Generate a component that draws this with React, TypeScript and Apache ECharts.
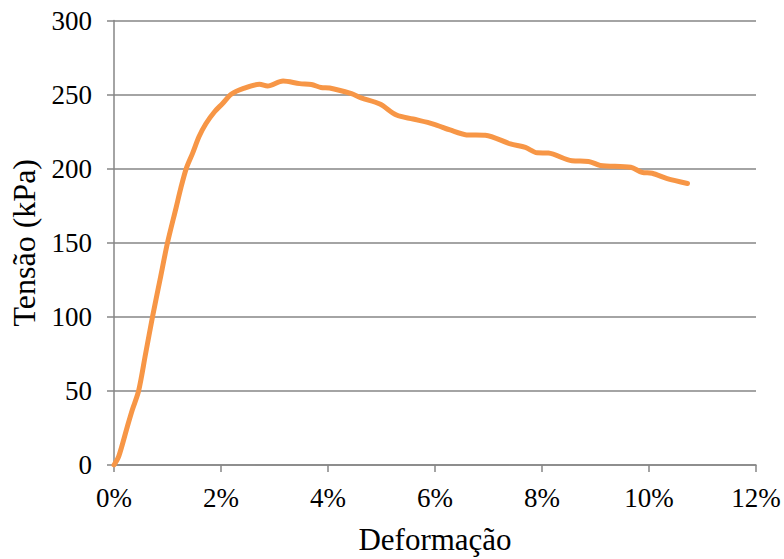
import React, { useEffect, useRef } from "react";
import * as echarts from "echarts";

const strainPct: number[] = [
  0, 0.09, 0.25, 0.34, 0.46, 0.59, 0.72, 0.86, 1.0, 1.16, 1.25, 1.35, 1.47, 1.59, 1.72, 1.88,
  2.03, 2.19, 2.41, 2.72, 2.87, 3.16, 3.47, 3.69, 3.87, 4.03, 4.44, 4.62, 4.97, 5.28, 5.59,
  5.97, 6.28, 6.59, 6.94, 7.41, 7.69, 7.91, 8.12, 8.56, 8.87, 9.09, 9.66, 9.87, 10.06, 10.34,
  10.72,
];
const stressKPa: number[] = [
  0, 6, 26, 37, 50, 75, 100, 125, 150, 173.6, 187, 200, 210.5, 221.7, 230.5, 238.4, 244,
  250.2, 254, 256.9, 255.8, 259.2, 257.4, 256.8, 254.8, 254.5, 250.6, 247.8, 243.6, 236.2,
  233.5, 230.1, 226.1, 222.8, 222.5, 216.7, 214.3, 210.7, 210.5, 205.3, 204.9, 202.2, 200.9,
  197.5, 196.9, 193.3, 190,
];
const xAxisTitle = "Deformação";
const yAxisTitle = "Tensão (kPa)";

export default function App() {
  const ref = useRef<HTMLDivElement>(null);
  useEffect(() => {
    if (!ref.current) return;
    const chart = echarts.init(ref.current, undefined, { renderer: "svg" });
    const font = "Times New Roman";
    chart.setOption({
      animation: false,
      backgroundColor: "#ffffff",
      textStyle: { fontFamily: font },
      grid: {
        left: 114,
        right: 28,
        top: 20.5,
        bottom: 94,
        containLabel: false,
        outerBoundsMode: "none",
      },
      xAxis: {
        type: "value",
        min: 0,
        max: 12,
        interval: 2,
        name: xAxisTitle,
        nameLocation: "middle",
        nameGap: 59,
        nameTextStyle: { fontFamily: font, fontSize: 31, color: "#000" },
        axisLine: { show: true, onZero: false, lineStyle: { color: "#868686", width: 1.5 } },
        axisTick: { show: true, length: 7, lineStyle: { color: "#868686", width: 1.5 } },
        splitLine: { show: false },
        axisLabel: {
          fontFamily: font,
          fontSize: 27,
          color: "#000",
          margin: 19,
          formatter: (v: number) => `${v}%`,
        },
      },
      yAxis: {
        type: "value",
        min: 0,
        max: 300,
        interval: 50,
        name: yAxisTitle,
        nameLocation: "middle",
        nameGap: 74,
        nameRotate: 90,
        nameTextStyle: { fontFamily: font, fontSize: 32, color: "#000" },
        axisLine: { show: true, lineStyle: { color: "#868686", width: 1.5 } },
        axisTick: { show: true, length: 7, lineStyle: { color: "#868686", width: 1.5 } },
        splitLine: { show: true, lineStyle: { color: "#868686", width: 1.5 } },
        axisLabel: { fontFamily: font, fontSize: 27, color: "#000", margin: 22 },
      },
      series: [
        {
          type: "line",
          data: strainPct.map((x, i) => [x, stressKPa[i]]),
          showSymbol: false,
          smooth: 0.3,
          lineStyle: { color: "#F79646", width: 5, cap: "round", join: "round" },
          itemStyle: { color: "#F79646" },
        },
      ],
    });
    return () => chart.dispose();
  }, []);
  return (
    <div
      ref={ref}
      style={{ position: "absolute", left: 0, top: 0, width: 784, height: 559 }}
    />
  );
}
